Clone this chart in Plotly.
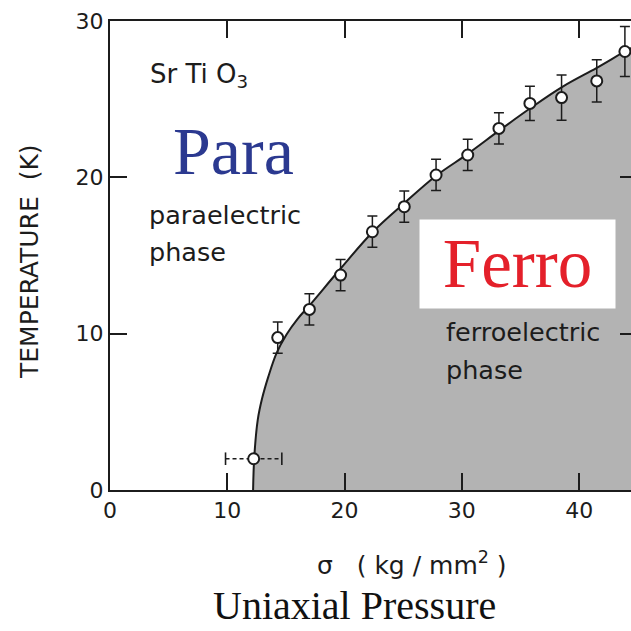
import plotly.graph_objects as go

# ---- data ----
pressure = [12.25, 14.3, 17.0, 19.66, 22.37, 25.09, 27.8, 30.5, 33.16, 35.8, 38.5, 41.5, 43.9]
temperature = [2.0, 9.75, 11.55, 13.75, 16.52, 18.12, 20.15, 21.43, 23.13, 24.73, 25.1, 26.17, 28.05]
temp_err = [0, 1.0, 1.0, 1.0, 1.0, 1.0, 1.0, 1.0, 1.0, 1.1, 1.45, 1.35, 1.6]
first_press_err = 2.4

curve_press = [12.2, 12.3, 12.6, 12.95, 13.5, 14.2, 15.05, 16.0, 17.0, 19.7, 22.4, 25.1,
               27.8, 30.5, 33.2, 35.8, 38.6, 41.5, 43.9, 45.0]
curve_temp = [0.0, 2.1, 4.5, 5.8, 7.25, 8.75, 9.95, 10.95, 11.8, 14.2, 16.5, 18.35,
              20.1, 21.5, 23.0, 24.4, 25.8, 27.0, 28.05, 28.5]

x_ticks = [0, 10, 20, 30, 40]
y_ticks = [0, 10, 20, 30]

W = H = 631
L, R, T, B = 110, 631, 21, 490


def px(x):
    return (x - L) / (R - L)


def py(y):
    return (B - y) / (B - T)


ink = "#1c1c1c"
sans = "DejaVu Sans"
serif = "Liberation Serif"

fig = go.Figure()

# ferroelectric region + phase boundary
fig.add_trace(go.Scatter(
    x=curve_press, y=curve_temp, mode="lines", line=dict(color=ink, width=2, shape="spline"),
    fill="tozeroy", fillcolor="#b3b3b3", hoverinfo="skip", showlegend=False))

# dashed horizontal error bar of the lowest point
x0 = pressure[0]
fig.add_trace(go.Scatter(
    x=[x0 - first_press_err, x0 + first_press_err], y=[temperature[0], temperature[0]],
    mode="lines", line=dict(color=ink, width=1.6, dash="4px,3px"), showlegend=False))
fig.add_trace(go.Scatter(
    x=[x0 - first_press_err, x0 + first_press_err], y=[temperature[0], temperature[0]],
    mode="markers", marker=dict(symbol="line-ns", size=9, line=dict(color=ink, width=1.6)),
    showlegend=False))

# measured points
fig.add_trace(go.Scatter(
    x=pressure, y=temperature, mode="markers",
    marker=dict(symbol="circle", size=11, color="white", line=dict(color=ink, width=2)),
    error_y=dict(type="data", array=temp_err, visible=True, color=ink, thickness=1.5, width=5),
    showlegend=False))

# invisible trace for right-side ticks
fig.add_trace(go.Scatter(x=[None], y=[None], yaxis="y2", showlegend=False))

ann = []


def text(x, y, s, size, family=sans, color=ink, xanchor="left", **kw):
    ann.append(dict(x=px(x), y=py(y), xref="paper", yref="paper", text=s, showarrow=False,
                    xanchor=xanchor, yanchor="middle", font=dict(size=size, family=family, color=color),
                    **kw))


text(148, 76, "Sr Ti O<sub>3</sub>", 26)
text(233, 151, "Para", 68, family=serif, color="#2b3990", xanchor="center")
text(147, 215, "paraelectric", 25.5)
text(147, 252, "phase", 25.5)
text(444, 332, "ferroelectric", 25.5)
text(444, 370, "phase", 25.5)
text(517, 264, "Ferro", 69, family=serif, color="#e4202a", xanchor="center",
     bgcolor="white", width=195, height=88, borderpad=0)
text(29, 262, "TEMPERATURE  (K)", 25, xanchor="center", textangle=-90)
text(412, 563, "σ   ( kg / mm<sup>2</sup> )", 25, xanchor="center")
text(354, 605, "Uniaxial Pressure", 40, family=serif, color="#111", xanchor="center")

axis_common = dict(showgrid=False, zeroline=False, ticks="inside", ticklen=17, tickwidth=1.6,
                   tickcolor=ink, showline=True, linewidth=2, linecolor=ink,
                   tickfont=dict(size=22, family=sans, color=ink))

fig.update_layout(
    width=W, height=H, margin=dict(l=L, r=W - R, t=T, b=H - B),
    paper_bgcolor="white", plot_bgcolor="white", showlegend=False,
    xaxis=dict(range=[0, 44.42], tickvals=x_ticks, mirror="ticks", **axis_common),
    yaxis=dict(range=[0, 30], tickvals=y_ticks, mirror=False, **axis_common),
    yaxis2=dict(range=[0, 30], tickvals=[10, 20], overlaying="y", side="right", anchor="x",
                showticklabels=False, showline=False, showgrid=False, zeroline=False,
                ticks="inside", ticklen=11, tickwidth=1.6, tickcolor=ink),
    annotations=ann,
)

fig.write_html("out.html")
